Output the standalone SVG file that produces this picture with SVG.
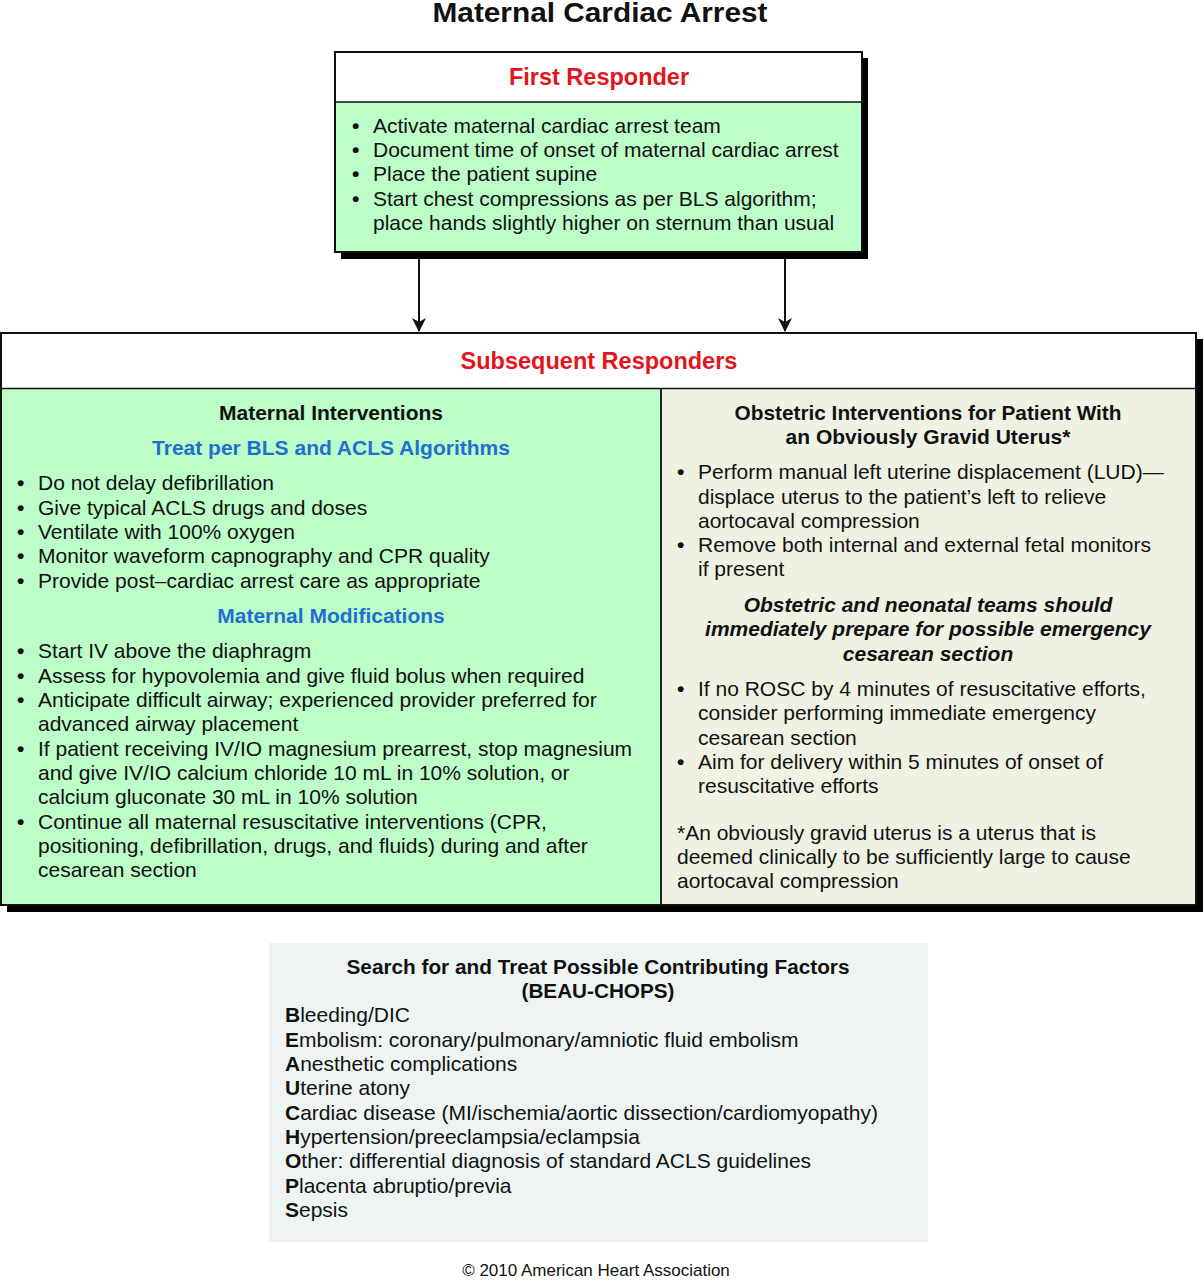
<svg xmlns="http://www.w3.org/2000/svg" width="1204" height="1280" viewBox="0 0 1204 1280">
<style>
text{font-family:"Liberation Sans",Arial,sans-serif;fill:#111;}
.t{font-size:21px;}
.b{font-weight:bold;}
.h{font-size:21px;font-weight:bold;}
.red{fill:#e3151c;font-size:23.5px;font-weight:bold;}
.blue{fill:#1f6fd0;font-size:21px;font-weight:bold;}
.c{text-anchor:middle;}
.bu{font-weight:bold;}
.box{stroke:#111;stroke-width:2;}
.shadow{fill:#000;}
.conn{stroke:#111;stroke-width:2;fill:none;}
</style>
<defs>
<marker id="ah" markerWidth="14" markerHeight="14" refX="13" refY="7" orient="auto" markerUnits="userSpaceOnUse" viewBox="0 0 14 14">
<path d="M0,0 L14,7 L0,14 L4,7 Z" fill="#111"/>
</marker>
</defs>
<rect width="1204" height="1280" fill="#fff"/>
<text x="600" y="22" class="c b" font-size="27" textLength="335" lengthAdjust="spacingAndGlyphs">Maternal Cardiac Arrest</text>

<g id="first-responder">
<rect class="shadow" x="341" y="58" width="527" height="201"/>
<rect x="335" y="52" width="527" height="200" fill="#bcfdc8" class="box"/>
<rect x="336" y="53" width="525" height="49" fill="#fff"/>
<line x1="335" y1="102" x2="862" y2="102" stroke="#111" stroke-width="1.5"/>
<text x="599" y="85" class="red c">First Responder</text>
<g class="t">
<text x="352" y="133" class="bu">•</text><text x="373" y="133">Activate maternal cardiac arrest team</text>
<text x="352" y="157" class="bu">•</text><text x="373" y="157">Document time of onset of maternal cardiac arrest</text>
<text x="352" y="181" class="bu">•</text><text x="373" y="181">Place the patient supine</text>
<text x="352" y="206" class="bu">•</text><text x="373" y="206">Start chest compressions as per BLS algorithm;</text>
<text x="373" y="230">place hands slightly higher on sternum than usual</text>
</g>
</g>

<g id="connectors">
<line x1="419" y1="259" x2="419" y2="331" class="conn" marker-end="url(#ah)"/>
<line x1="785" y1="259" x2="785" y2="331" class="conn" marker-end="url(#ah)"/>
</g>

<g id="subsequent-responders">
<rect class="shadow" x="7" y="339" width="1196" height="573"/>
<rect x="1" y="333" width="1195" height="572" fill="#fff" class="box"/>
<rect x="2" y="389" width="659" height="515" fill="#bcfdc8"/>
<rect x="662" y="389" width="533" height="515" fill="#eff1e3"/>
<line x1="1" y1="388.5" x2="1196" y2="388.5" stroke="#111" stroke-width="1.5"/>
<line x1="661" y1="389" x2="661" y2="905" stroke="#222" stroke-width="2"/>
<text x="599" y="369" class="red c">Subsequent Responders</text>
</g>

<g id="maternal-interventions" class="t">
<text x="331" y="420" class="h c">Maternal Interventions</text>
<text x="331" y="455" class="blue c">Treat per BLS and ACLS Algorithms</text>
<text x="17" y="490" class="bu">•</text><text x="38" y="490">Do not delay defibrillation</text>
<text x="17" y="515" class="bu">•</text><text x="38" y="515">Give typical ACLS drugs and doses</text>
<text x="17" y="539" class="bu">•</text><text x="38" y="539">Ventilate with 100% oxygen</text>
<text x="17" y="563" class="bu">•</text><text x="38" y="563">Monitor waveform capnography and CPR quality</text>
<text x="17" y="588" class="bu">•</text><text x="38" y="588">Provide post–cardiac arrest care as appropriate</text>
<text x="331" y="623" class="blue c">Maternal Modifications</text>
<text x="17" y="658" class="bu">•</text><text x="38" y="658">Start IV above the diaphragm</text>
<text x="17" y="683" class="bu">•</text><text x="38" y="683">Assess for hypovolemia and give fluid bolus when required</text>
<text x="17" y="707" class="bu">•</text><text x="38" y="707">Anticipate difficult airway; experienced provider preferred for</text>
<text x="38" y="731">advanced airway placement</text>
<text x="17" y="756" class="bu">•</text><text x="38" y="756">If patient receiving IV/IO magnesium prearrest, stop magnesium</text>
<text x="38" y="780">and give IV/IO calcium chloride 10 mL in 10% solution, or</text>
<text x="38" y="804">calcium gluconate 30 mL in 10% solution</text>
<text x="17" y="829" class="bu">•</text><text x="38" y="829">Continue all maternal resuscitative interventions (CPR,</text>
<text x="38" y="853">positioning, defibrillation, drugs, and fluids) during and after</text>
<text x="38" y="877">cesarean section</text>
</g>

<g id="obstetric-interventions" class="t">
<text x="928" y="420" class="h c" textLength="387" lengthAdjust="spacingAndGlyphs">Obstetric Interventions for Patient With</text>
<text x="928" y="444" class="h c">an Obviously Gravid Uterus*</text>
<text x="677" y="479" class="bu">•</text><text x="698" y="479">Perform manual left uterine displacement (LUD)—</text>
<text x="698" y="504">displace uterus to the patient’s left to relieve</text>
<text x="698" y="528">aortocaval compression</text>
<text x="677" y="552" class="bu">•</text><text x="698" y="552">Remove both internal and external fetal monitors</text>
<text x="698" y="576">if present</text>
<text x="928" y="612" class="c b" font-style="italic">Obstetric and neonatal teams should</text>
<text x="928" y="636" class="c b" font-style="italic">immediately prepare for possible emergency</text>
<text x="928" y="661" class="c b" font-style="italic">cesarean section</text>
<text x="677" y="696" class="bu">•</text><text x="698" y="696">If no ROSC by 4 minutes of resuscitative efforts,</text>
<text x="698" y="720">consider performing immediate emergency</text>
<text x="698" y="745">cesarean section</text>
<text x="677" y="769" class="bu">•</text><text x="698" y="769">Aim for delivery within 5 minutes of onset of</text>
<text x="698" y="793">resuscitative efforts</text>
<text x="677" y="840">*An obviously gravid uterus is a uterus that is</text>
<text x="677" y="864">deemed clinically to be sufficiently large to cause</text>
<text x="677" y="888">aortocaval compression</text>
</g>

<g id="contributing-factors" class="t">
<rect x="269" y="943" width="659" height="299" fill="#eef4f2"/>
<text x="598" y="974" class="c b" font-size="20" textLength="503" lengthAdjust="spacingAndGlyphs">Search for and Treat Possible Contributing Factors</text>
<text x="598" y="998" class="c b" font-size="20" textLength="153" lengthAdjust="spacingAndGlyphs">(BEAU-CHOPS)</text>
<text x="285" y="1022"><tspan font-weight="900">B</tspan>leeding/DIC</text>
<text x="285" y="1047"><tspan font-weight="900">E</tspan>mbolism: coronary/pulmonary/amniotic fluid embolism</text>
<text x="285" y="1071"><tspan font-weight="900">A</tspan>nesthetic complications</text>
<text x="285" y="1095"><tspan font-weight="900">U</tspan>terine atony</text>
<text x="285" y="1120"><tspan font-weight="900">C</tspan>ardiac disease (MI/ischemia/aortic dissection/cardiomyopathy)</text>
<text x="285" y="1144"><tspan font-weight="900">H</tspan>ypertension/preeclampsia/eclampsia</text>
<text x="285" y="1168"><tspan font-weight="900">O</tspan>ther: differential diagnosis of standard ACLS guidelines</text>
<text x="285" y="1193"><tspan font-weight="900">P</tspan>lacenta abruptio/previa</text>
<text x="285" y="1217"><tspan font-weight="900">S</tspan>epsis</text>
</g>

<text x="596" y="1276" class="c" font-size="17">© 2010 American Heart Association</text>
</svg>
